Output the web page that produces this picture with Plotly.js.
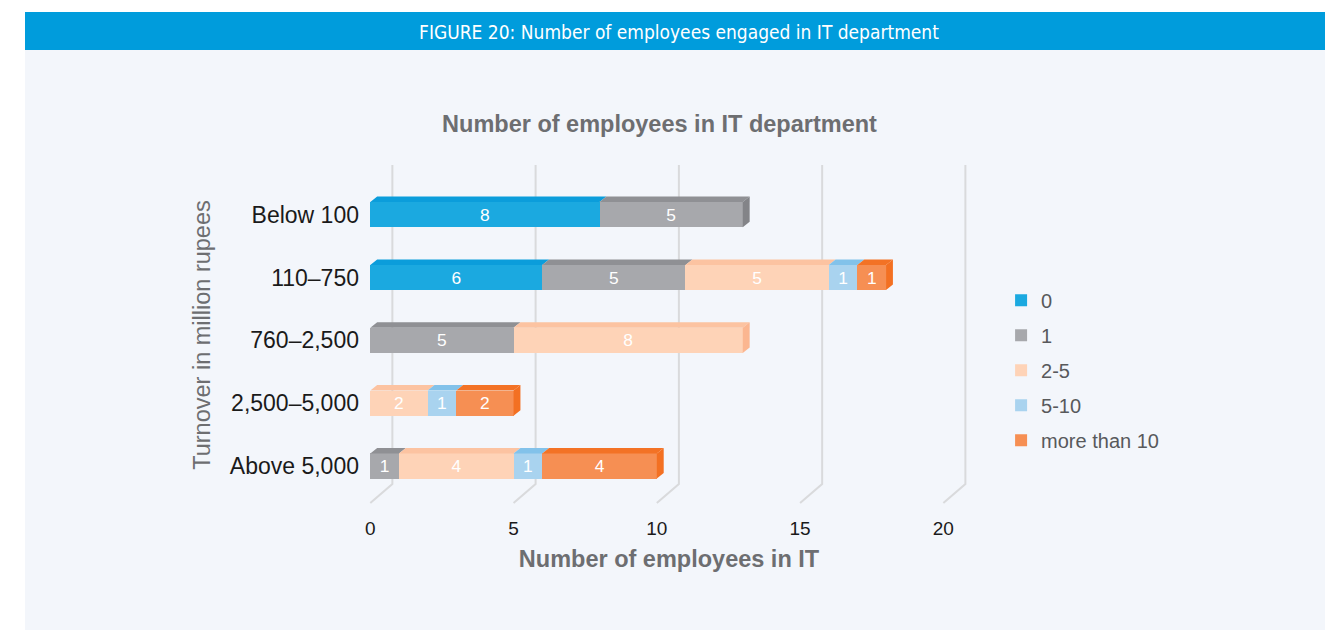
<!DOCTYPE html>
<html>
<head>
<meta charset="utf-8">
<script src="https://cdn.plot.ly/plotly-3.0.1.min.js"></script>
<style>
  html, body { margin: 0; padding: 0; background: #ffffff; }
  #wrap { position: relative; width: 1335px; height: 630px; overflow: hidden; background: #ffffff; }
  #header { position: absolute; left: 25px; top: 12px; width: 1300px; height: 38px; background: #009cdc;
            color: #ffffff; font-family: "Liberation Sans Narrow", "DejaVu Sans Condensed", "Liberation Sans", sans-serif;
            font-size: 19px; line-height: 40px; text-align: center; padding-left: 8px; box-sizing: border-box; }
  #panel { position: absolute; left: 25px; top: 50px; width: 1300px; height: 580px; background: #f3f6fb; }
  #chart { position: absolute; left: 0; top: 0; width: 1335px; height: 630px; }
</style>
</head>
<body>
<div id="wrap">
  <div id="header">FIGURE 20: Number of employees engaged in IT department</div>
  <div id="panel"></div>
  <div id="chart"></div>
</div>
<script>
// ---------- data ----------
const categories = ['Below 100', '110–750', '760–2,500', '2,500–5,000', 'Above 5,000'];
const seriesNames = ['0', '1', '2-5', '5-10', 'more than 10'];
const valsZero   = [8, 6, 0, 0, 0];
const valsOne    = [5, 5, 5, 0, 1];
const valsTwo5   = [0, 5, 8, 2, 4];
const valsFive10 = [0, 1, 0, 1, 1];
const valsMore10 = [0, 1, 0, 2, 4];
const xTickVals  = [0, 5, 10, 15, 20];

// ---------- styles ----------
const seriesValues = [valsZero, valsOne, valsTwo5, valsFive10, valsMore10];
const frontColors = ['#1ba9e0', '#a7a8ac', '#fed3b7', '#a9d3ef', '#f68f53'];
const topColors   = ['#0b9ddb', '#8f9094', '#fcc3a1', '#82c2ea', '#f37225'];
const sideColors  = ['#0a8fc8', '#838488', '#fbb690', '#7ab8e0', '#f37022'];
const barW = 0.4, depthX = 0.24, depthY = 0.088;
const gridDX = 0.77, gridTop = -0.79, gridBend = 4.285, gridBot = 4.59;

const catIdx = categories.map((c, i) => i);
const traces = [];
seriesValues.forEach((vals, s) => {
  traces.push({
    type: 'bar', orientation: 'h', name: seriesNames[s],
    y: catIdx, x: vals, width: barW,
    marker: { color: frontColors[s], line: { width: 0 } },
    text: vals.map(v => v ? String(v) : ''),
    textposition: 'inside', insidetextanchor: 'middle', textangle: 0,
    insidetextfont: { color: '#ffffff', size: 20, family: 'Liberation Sans, Arial, sans-serif' },
    hoverinfo: 'x+name', legendgroup: 'g' + s
  });
});

// 3D faces derived from the stacked values
const topX = seriesNames.map(() => []), topY = seriesNames.map(() => []);
const sideX = seriesNames.map(() => []), sideY = seriesNames.map(() => []);
catIdx.forEach(i => {
  let cum = 0, lastS = -1, lastEnd = 0;
  seriesValues.forEach((vals, s) => {
    const v = vals[i];
    if (!v) return;
    const x0 = cum, x1 = cum + v, yt = i - barW / 2;
    topX[s].push(x0, x1, x1 + depthX, x0 + depthX, x0, null);
    topY[s].push(yt, yt, yt - depthY, yt - depthY, yt, null);
    cum = x1; lastS = s; lastEnd = x1;
  });
  if (lastS >= 0) {
    const yt = i - barW / 2, yb = i + barW / 2;
    sideX[lastS].push(lastEnd, lastEnd + depthX, lastEnd + depthX, lastEnd, lastEnd, null);
    sideY[lastS].push(yt, yt - depthY, yb - depthY, yb, yt, null);
  }
});
seriesNames.forEach((n, s) => {
  traces.push({ type: 'scatter', mode: 'lines', x: topX[s], y: topY[s], fill: 'toself',
    fillcolor: topColors[s], line: { width: 0, color: topColors[s] }, showlegend: false, hoverinfo: 'skip' });
  traces.push({ type: 'scatter', mode: 'lines', x: sideX[s], y: sideY[s], fill: 'toself',
    fillcolor: sideColors[s], line: { width: 0, color: sideColors[s] }, showlegend: false, hoverinfo: 'skip' });
});

// back-wall gridlines
const shapes = xTickVals.map(v => ({
  type: 'path', xref: 'x', yref: 'y', layer: 'below',
  path: `M ${v + gridDX},${gridTop} L ${v + gridDX},${gridBend} L ${v},${gridBot}`,
  line: { color: '#d9dadc', width: 2 }
}));

const layout = {
  width: 1335, height: 630,
  paper_bgcolor: 'rgba(0,0,0,0)', plot_bgcolor: 'rgba(0,0,0,0)',
  margin: { l: 366, r: 363, t: 160, b: 120, autoexpand: false },
  font: { family: 'Liberation Sans, Arial, sans-serif', color: '#58595b' },
  barmode: 'stack', bargap: 0.6,
  showlegend: true,
  title: { text: '<b>Number of employees in IT department</b>', x: 0.494, xanchor: 'center',
           y: 0.803, yanchor: 'middle', yref: 'container',
           font: { size: 23.5, color: '#6d6e71', family: 'Liberation Sans, Arial, sans-serif' } },
  xaxis: {
    range: [-0.15, 21], tickvals: xTickVals, ticktext: xTickVals.map(String),
    showgrid: false, zeroline: false, showline: false, ticks: '',
    tickfont: { size: 19, color: '#1a1a1a' }, ticklabelstandoff: 5,
    title: { text: '<b>Number of employees in IT</b>', standoff: 12,
             font: { size: 23.5, color: '#6d6e71' } },
    fixedrange: true
  },
  yaxis: {
    range: [4.70, -0.87], tickvals: catIdx, ticktext: categories,
    showgrid: false, zeroline: false, showline: false, ticks: '',
    tickfont: { size: 23, color: '#1a1a1a' }, ticklabelstandoff: 6,
    title: { text: 'Turnover in million rupees', standoff: 12,
             font: { size: 23.5, color: '#6d6e71' } },
    fixedrange: true
  },
  legend: {
    x: 1.048, xanchor: 'left', y: 0.655, yanchor: 'top',
    traceorder: 'grouped', tracegroupgap: 6,
    font: { size: 20, color: '#58595b' }, bgcolor: 'rgba(0,0,0,0)', itemwidth: 30
  },
  shapes: shapes
};

Plotly.newPlot('chart', traces, layout, { displayModeBar: false, staticPlot: true });
</script>
</body>
</html>
